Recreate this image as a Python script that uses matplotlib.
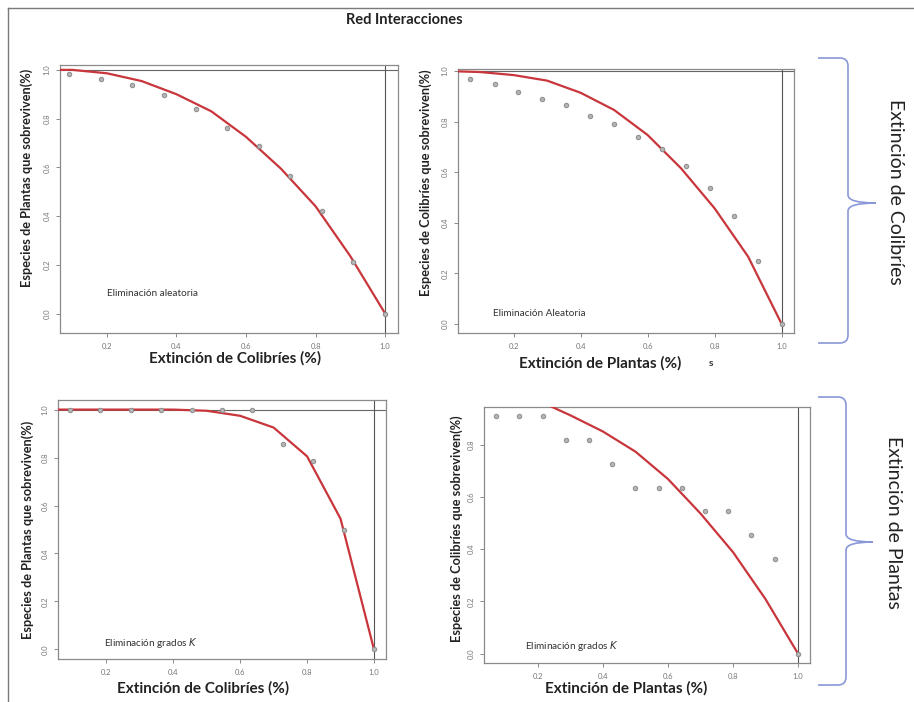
import numpy as np
import matplotlib
matplotlib.use("Agg")
import matplotlib.pyplot as plt
from matplotlib.path import Path
from matplotlib.patches import PathPatch

plt.rcParams['font.family'] = ['Lato', 'DejaVu Sans']

W, H = 914, 702

# --- data ---
x11 = [0.091, 0.182, 0.273, 0.364, 0.455, 0.545, 0.636, 0.727, 0.818, 0.909, 1.0]
x14 = [0.071, 0.143, 0.214, 0.286, 0.357, 0.429, 0.5, 0.571, 0.643, 0.714,
       0.786, 0.857, 0.929, 1.0]
x_fit = [0.0, 0.1, 0.2, 0.3, 0.4, 0.5, 0.6, 0.7, 0.8, 0.9, 1.0]

tl_pts = [0.982, 0.963, 0.936, 0.896, 0.840, 0.763, 0.688, 0.565, 0.42, 0.21, 0.0]
tl_fit = [1.0, 1.0, 0.986, 0.954, 0.90, 0.83, 0.725, 0.595, 0.44, 0.235, 0.0]

tr_pts = [0.967, 0.947, 0.916, 0.891, 0.864, 0.823, 0.789, 0.739, 0.690, 0.625,
          0.539, 0.426, 0.249, 0.0]
tr_fit = [1.0, 0.996, 0.984, 0.962, 0.914, 0.846, 0.747, 0.615, 0.457, 0.266, 0.0]

bl_pts = [1.0, 1.0, 1.0, 1.0, 1.0, 1.0, 1.0, 0.857, 0.786, 0.5, 0.0]
bl_fit = [1.0, 1.0, 1.0, 1.0, 1.0, 0.995, 0.974, 0.925, 0.805, 0.545, 0.0]

br_pts = [0.909, 0.909, 0.909, 0.818, 0.818, 0.727, 0.636, 0.636, 0.636, 0.545,
          0.545, 0.455, 0.364, 0.0]
br_fit = [1.0, 0.99, 0.97, 0.913, 0.851, 0.774, 0.669, 0.537, 0.389, 0.209, 0.0]

xlab_col = "Extinción de Colibríes (%)"
xlab_pla = "Extinción de Plantas (%)"
ylab_pla = "Especies de Plantas que sobreviven(%)"
ylab_col = "Especies de Colibríes que sobreviven(%)"

RED = '#c8363c'
PT = '#8c8c8c'
BLUE = '#8a98d8'


def px_axes(l, t, r, b):
    return [l / W, 1 - b / H, (r - l) / W, (b - t) / H]


def panel(box, x, pts, fit, xlim, ylim, xlab, ylab, note, xl_pos, yl_pos,
          note_pos, hline=True):
    ax = fig.add_axes(px_axes(*box))
    ax.plot(x_fit, fit, color=RED, lw=1.6, zorder=3)
    ax.plot(x, pts, 'o', ms=3.2, mfc='#b5b5b5', mec=PT, mew=0.7, zorder=4)
    if hline:
        ax.axhline(1.0, color='#666666', lw=0.8, zorder=2)
    ax.axvline(1.0, color='#555555', lw=0.8, zorder=2)
    ax.set_xticks([0.2, 0.4, 0.6, 0.8, 1.0])
    ax.set_yticks([0.0, 0.2, 0.4, 0.6, 0.8, 1.0])
    ax.set_xticklabels(['0.2', '0.4', '0.6', '0.8', '1.0'])
    ax.set_yticklabels(['0.0', '0.2', '0.4', '0.6', '0.8', '1.0'],
                       rotation=90, va='center')
    ax.set_xlim(*xlim)
    ax.set_ylim(*ylim)
    ax.tick_params(labelsize=5.5, labelcolor='#777777', color='#777777',
                   length=3, width=0.6, pad=4)
    for s in ax.spines.values():
        s.set_color('#8a8a8a')
        s.set_linewidth(0.9)
    ax.set_xlabel(xlab, fontsize=11, fontweight='bold', color='#222222')
    ax.xaxis.set_label_coords(*xl_pos)
    ax.xaxis.label.set_va('center')
    ax.set_ylabel(ylab, fontsize=9.2, fontweight='bold', color='#222222')
    ax.yaxis.set_label_coords(*yl_pos)
    ax.yaxis.label.set_va('center')
    ax.text(note_pos[0], note_pos[1], note, transform=ax.transAxes,
            fontsize=7.2, color='#333333', va='center', ha='left')
    return ax


fig = plt.figure(figsize=(W / 100, H / 100), dpi=100)

panel((60, 65, 398, 333), x11, tl_pts, tl_fit, (0.065, 1.037), (-0.08, 1.02),
      xlab_col, ylab_pla, "Eliminación aleatoria",
      (0.518, -0.095), (-0.098, 0.578), (0.139, 0.146))

panel((458, 69, 794, 333), x14, tr_pts, tr_fit, (0.034, 1.037), (-0.036, 1.008),
      xlab_pla, ylab_col, "Eliminación Aleatoria",
      (0.423, -0.114), (-0.095, 0.568), (0.103, 0.072))

panel((58, 400, 386, 659), x11, bl_pts, bl_fit, (0.055, 1.036), (-0.04, 1.04),
      xlab_col, ylab_pla, "Eliminación grados $K$",
      (0.442, -0.112), (-0.091, 0.5), (0.14, 0.062))

panel((484, 407, 810, 663), x14, br_pts, br_fit, (0.034, 1.037), (-0.036, 0.945),
      xlab_pla, ylab_col, "Eliminación grados $K$",
      (0.436, -0.1), (-0.083, 0.523), (0.126, 0.066), hline=False)

# title and stray mark
fig.text(404 / W, 1 - 20 / H, "Red Interacciones", fontsize=10.5,
         fontweight='bold', ha='center', va='center', color='#222222')
fig.text(711 / W, 1 - 363 / H, "s", fontsize=7.5, fontweight='bold',
         ha='center', va='center', color='#333333')

# frame lines (top and left)
fig.add_artist(plt.Line2D([8 / W, 1], [1 - 8 / H, 1 - 8 / H],
                          transform=fig.transFigure, color='#7a7a7a', lw=1.0))
fig.add_artist(plt.Line2D([8 / W, 8 / W], [0, 1 - 8 / H],
                          transform=fig.transFigure, color='#7a7a7a', lw=1.0))


def brace(x0, xv, xt, top, mid, bot):
    r = 8
    pts = [(x0, top), (xv - r, top), (xv, top), (xv, top + r),
           (xv, mid - r), (xv, mid), (xt, mid),
           (xv, mid), (xv, mid + r),
           (xv, bot - r), (xv, bot), (xv - r, bot), (x0, bot)]
    codes = [Path.MOVETO, Path.LINETO, Path.CURVE3, Path.CURVE3,
             Path.LINETO, Path.CURVE3, Path.CURVE3,
             Path.CURVE3, Path.CURVE3,
             Path.LINETO, Path.CURVE3, Path.CURVE3, Path.LINETO]
    verts = [(px / W, 1 - py / H) for px, py in pts]
    fig.add_artist(PathPatch(Path(verts, codes), transform=fig.transFigure,
                             fill=False, edgecolor=BLUE, lw=1.2))


brace(818, 848, 876, 58, 203, 343)
brace(818, 846, 873, 397, 542, 685)

fig.text(896 / W, 1 - 192 / H, "Extinción de Colibríes", rotation=-90,
         fontsize=14, ha='center', va='center', color='#222222')
fig.text(894 / W, 1 - 522 / H, "Extinción de Plantas", rotation=-90,
         fontsize=14, ha='center', va='center', color='#222222')

fig.savefig("out.png", dpi=100)
